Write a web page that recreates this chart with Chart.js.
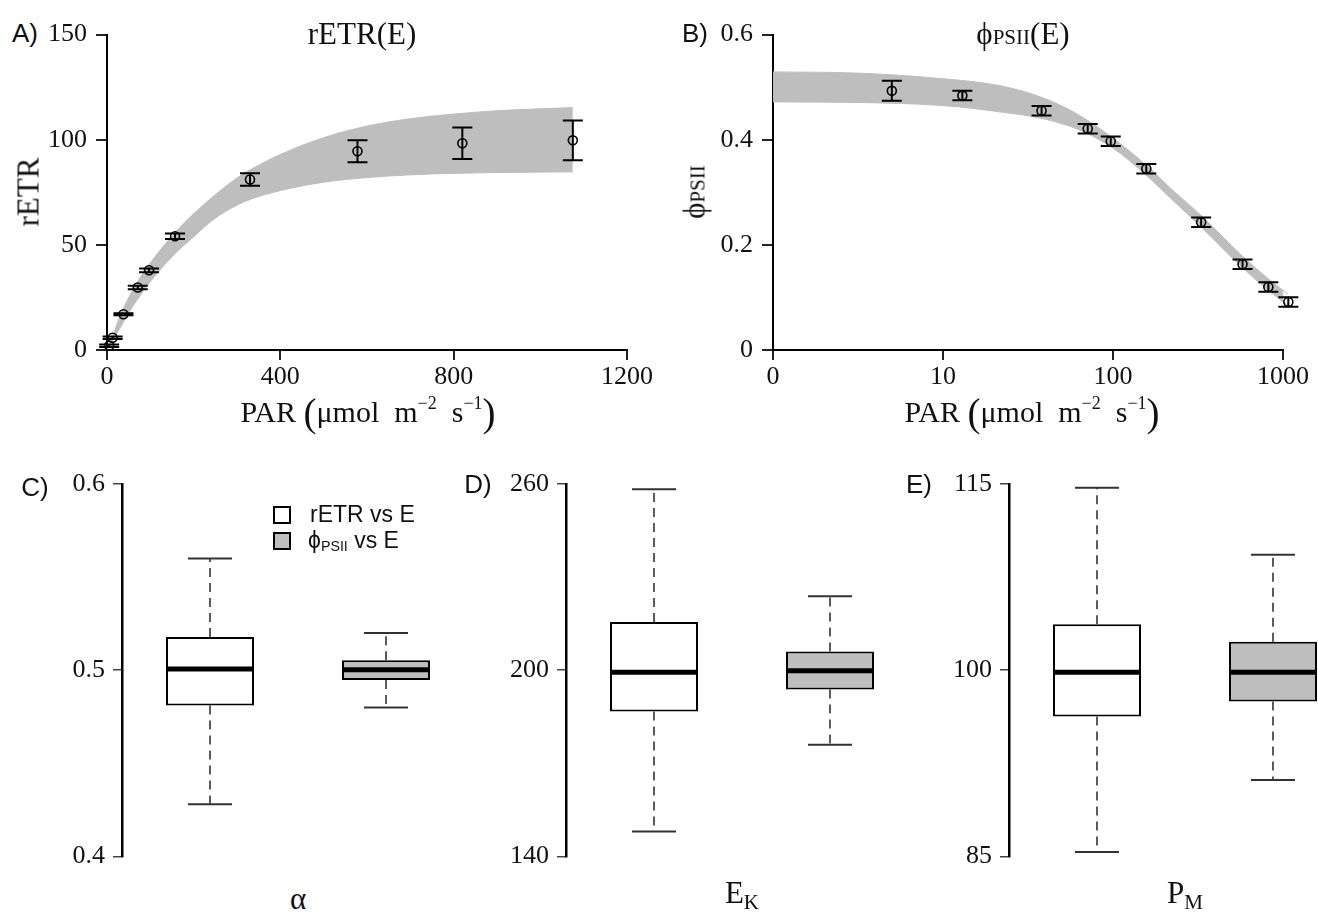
<!DOCTYPE html>
<html>
<head>
<meta charset="utf-8">
<script src="https://cdn.jsdelivr.net/npm/chart.js@4.4.1/dist/chart.umd.min.js"></script>
<style>
  html, body { margin: 0; padding: 0; background: #fff; overflow: hidden; }
  #fig { position: relative; width: 1318px; height: 912px; overflow: hidden; background: #fff; }
  .panel { position: absolute; }
  .txt { position: absolute; transform: translate(-50%, -50%); white-space: nowrap; color: #111; line-height: 1; }
  .lt { transform: translate(0, -50%); }
  .serif { font-family: "Liberation Serif", "Times New Roman", serif; }
  .sans { font-family: "Liberation Sans", Arial, sans-serif; }
  .rot { transform: translate(-50%, -50%) rotate(-90deg); }
  .sup { font-size: 60%; vertical-align: 0.75em; }
  .paren { font-size: 130%; vertical-align: -0.08em; }
  .sub { font-size: 68%; vertical-align: -0.02em; }
  .subl { font-size: 68%; vertical-align: -0.25em; }
  .key { position: absolute; width: 14px; height: 14px; border: 2px solid #000; }
</style>
</head>
<body>
<div id="fig">
  <div class="panel" style="left:40px;top:10px;width:620px;height:390px"><canvas id="cA"></canvas></div>
  <div class="panel" style="left:700px;top:10px;width:618px;height:390px"><canvas id="cB"></canvas></div>
  <div class="panel" style="left:40px;top:460px;width:440px;height:420px"><canvas id="cC"></canvas></div>
  <div class="panel" style="left:480px;top:460px;width:446px;height:420px"><canvas id="cD"></canvas></div>
  <div class="panel" style="left:920px;top:460px;width:447px;height:420px"><canvas id="cE"></canvas></div>

  <div class="txt sans" style="left:25px;top:33px;font-size:26px">A)</div>
  <div class="txt serif" style="left:362px;top:33px;font-size:31px">rETR(E)</div>
  <div class="txt serif rot" style="left:28px;top:192px;font-size:31px">rETR</div>
  <div class="txt serif" style="left:368px;top:412px;font-size:30px">PAR <span class="paren">(</span>μmol&nbsp; m<span class="sup">−2</span>&nbsp; s<span class="sup">−1</span><span class="paren">)</span></div>

  <div class="txt sans" style="left:695px;top:33px;font-size:26px">B)</div>
  <div class="txt serif" style="left:1023px;top:33px;font-size:31px">ϕ<span class="sub">PSII</span>(E)</div>
  <div class="txt serif rot" style="left:694px;top:192px;font-size:31px">ϕ<span class="sub">PSII</span></div>
  <div class="txt serif" style="left:1032px;top:412px;font-size:30px">PAR <span class="paren">(</span>μmol&nbsp; m<span class="sup">−2</span>&nbsp; s<span class="sup">−1</span><span class="paren">)</span></div>

  <div class="txt sans" style="left:35px;top:487px;font-size:26px">C)</div>
  <div class="txt sans" style="left:478px;top:484px;font-size:26px">D)</div>
  <div class="txt sans" style="left:919px;top:484px;font-size:26px">E)</div>

  <div class="txt serif" style="left:298px;top:898px;font-size:31px">α</div>
  <div class="txt serif" style="left:742px;top:895px;font-size:31px">E<span class="subl">K</span></div>
  <div class="txt serif" style="left:1185px;top:895px;font-size:31px">P<span class="subl">M</span></div>

  <div class="key" style="left:273px;top:506px;background:#fff"></div>
  <div class="txt sans lt" style="left:310px;top:514px;font-size:23px" id="leg0"></div>
  <div class="key" style="left:273px;top:532px;background:#bebebe"></div>
  <div class="txt sans lt" style="left:308px;top:541px;font-size:23px">ϕ<span class="subl" style="font-size:62%">PSII</span> vs E</div>
</div>

<script>
// light levels (PAR, umol m-2 s-1) of the measured points
const parLevels = [5, 13, 38, 71, 97, 157, 330, 578, 820, 1075];
const rETRMean = [2.0, 5.8, 17.0, 29.7, 37.9, 54.1, 81.1, 94.5, 98.3, 99.7];
const rETRErr = [0.6, 0.6, 0.5, 0.8, 0.9, 1.3, 3.0, 5.2, 7.5, 9.5];
const phiMean = [0.493, 0.484, 0.455, 0.421, 0.397, 0.345, 0.243, 0.163, 0.120, 0.0915];
const phiErr = [0.019, 0.009, 0.009, 0.009, 0.009, 0.009, 0.009, 0.009, 0.009, 0.009];

// model envelope
const bandParA = [0, 15, 30, 62, 102, 158, 201, 245, 301, 333, 400, 500, 600, 700, 800, 900, 1000, 1075];
const rETRBandHi = [0, 7.8, 16.1, 29.5, 42, 56, 65, 73, 82, 86, 93, 101, 106.5, 110, 112.2, 113.8, 114.7, 115.3];
const rETRBandLo = [0, 5.0, 10.5, 21.5, 33, 46, 54, 62, 69, 71.8, 75.8, 79.8, 82, 83.3, 84, 84.4, 84.6, 84.7];
const bandParB = [1, 3, 10, 21.5, 40, 63, 100, 155, 226, 330, 580, 830, 1075];
const phiBandHi = [0.529, 0.527, 0.516, 0.503, 0.478, 0.447, 0.403, 0.353, 0.303, 0.256, 0.178, 0.134, 0.106];
const phiBandLo = [0.472, 0.471, 0.465, 0.453, 0.439, 0.419, 0.384, 0.334, 0.284, 0.234, 0.156, 0.112, 0.084];

// tick values and labels
const rETRTicksX = [0, 400, 800, 1200];
const rETRTicksY = [0, 50, 100, 150];
const phiTicksX = [1, 10, 100, 1000];
const phiTickLabelsX = ['0', '10', '100', '1000'];
const phiTicksY = [0, 0.2, 0.4, 0.6];
const phiTickLabelsY = ['0', '0.2', '0.4', '0.6'];
const alphaTicks = [0.4, 0.5, 0.6];
const alphaTickLabels = ['0.4', '0.5', '0.6'];
const ekTicks = [140, 200, 260];
const pmTicks = [85, 100, 115];

// box plots: [lower whisker, q1, median, q3, upper whisker]
const boxGroups = ['rETR vs E', 'ϕPSII vs E'];
const alphaRETR = [0.428, 0.481, 0.5007, 0.5178, 0.560];
const alphaPhi = [0.480, 0.4947, 0.5002, 0.5053, 0.520];
const ekRETR = [148.0, 186.7, 199.3, 215.5, 258.3];
const ekPhi = [176.0, 193.8, 199.8, 206.0, 223.8];
const pmRETR = [85.35, 96.27, 99.84, 103.7, 114.7];
const pmPhi = [91.15, 97.47, 99.84, 102.3, 109.3];

document.getElementById('leg0').textContent = boxGroups[0];

const serif = { family: '"Liberation Serif", "Times New Roman", serif', size: 26 };
const bandGrey = '#bebebe';
const boxFills = ['#ffffff', bandGrey];

function baseOptions(pad) {
  return {
    responsive: true,
    maintainAspectRatio: false,
    animation: false,
    events: [],
    layout: { padding: pad },
    plugins: { legend: { display: false }, tooltip: { enabled: false } }
  };
}

function axis(o) {
  return {
    type: o.type || 'linear',
    position: o.position,
    min: o.min,
    max: o.max,
    offset: false,
    afterBuildTicks: s => { s.ticks = o.ticks.map(v => ({ value: v })); },
    afterFit: s => {
      if (o.position === 'left') s.width = o.size; else s.height = o.size;
    },
    ticks: {
      font: serif, color: '#111', padding: o.pad, maxRotation: 0, autoSkip: false,
      callback: (v, i) => o.labels[i]
    },
    grid: { drawOnChartArea: false, drawTicks: true, tickLength: o.tick, color: '#222', lineWidth: 2 },
    border: { display: true, color: '#000', width: 2 }
  };
}

const errorBars = {
  id: 'errorBars',
  afterDatasetsDraw(chart) {
    const ctx = chart.ctx;
    const ys = chart.scales.y;
    chart.data.datasets.forEach((ds, i) => {
      if (!ds.errors) return;
      const meta = chart.getDatasetMeta(i);
      ctx.save();
      ctx.strokeStyle = '#000';
      ctx.lineWidth = 2;
      meta.data.forEach((pt, j) => {
        const v = ds.data[j].y, e = ds.errors[j];
        const top = ys.getPixelForValue(v + e);
        const bot = ys.getPixelForValue(v - e);
        ctx.beginPath();
        ctx.moveTo(pt.x, top); ctx.lineTo(pt.x, bot);
        ctx.moveTo(pt.x - 10, top); ctx.lineTo(pt.x + 10, top);
        ctx.moveTo(pt.x - 10, bot); ctx.lineTo(pt.x + 10, bot);
        ctx.stroke();
      });
      ctx.restore();
    });
  }
};

function bandSets(xs, hi, lo) {
  const common = {
    type: 'line', borderColor: bandGrey, backgroundColor: bandGrey, borderWidth: 1,
    pointRadius: 0, cubicInterpolationMode: 'monotone', clip: false, order: 5
  };
  return [
    Object.assign({}, common, { data: xs.map((x, i) => ({ x, y: hi[i] })), fill: '+1' }),
    Object.assign({}, common, { data: xs.map((x, i) => ({ x, y: lo[i] })), fill: false })
  ];
}

function pointSet(xs, ys, errs) {
  return {
    type: 'scatter',
    data: xs.map((x, i) => ({ x, y: ys[i] })),
    errors: errs,
    pointRadius: 4.5,
    pointBorderWidth: 1.6,
    borderColor: '#000',
    pointBorderColor: '#000',
    backgroundColor: 'rgba(0,0,0,0)',
    pointBackgroundColor: 'rgba(0,0,0,0)',
    clip: false,
    order: 1
  };
}

// A) rETR vs PAR
new Chart(document.getElementById('cA'), {
  type: 'scatter',
  data: {
    datasets: [
      ...bandSets(bandParA, rETRBandHi, rETRBandLo),
      pointSet(parLevels, rETRMean, rETRErr)
    ]
  },
  options: Object.assign(baseOptions({ top: 23, right: 33, left: 0, bottom: 0 }), {
    scales: {
      x: axis({ position: 'bottom', min: 0, max: 1200, ticks: rETRTicksX, labels: rETRTicksX.map(String), size: 50, tick: 10, pad: 2 }),
      y: axis({ position: 'left', min: 0, max: 150, ticks: rETRTicksY, labels: rETRTicksY.map(String), size: 67, tick: 11, pad: 9 })
    }
  }),
  plugins: [errorBars]
});

// B) phiPSII vs PAR (log axis)
new Chart(document.getElementById('cB'), {
  type: 'scatter',
  data: {
    datasets: [
      ...bandSets(bandParB, phiBandHi, phiBandLo),
      pointSet(parLevels, phiMean, phiErr)
    ]
  },
  options: Object.assign(baseOptions({ top: 23, right: 35, left: 0, bottom: 0 }), {
    scales: {
      x: axis({ type: 'logarithmic', position: 'bottom', min: 1, max: 1000, ticks: phiTicksX, labels: phiTickLabelsX, size: 50, tick: 10, pad: 2 }),
      y: axis({ position: 'left', min: 0, max: 0.6, ticks: phiTicksY, labels: phiTickLabelsY, size: 73, tick: 11, pad: 9 })
    }
  }),
  plugins: [errorBars]
});

function seg(pts, style) {
  return Object.assign({
    type: 'line', data: pts.map(p => ({ x: p[0], y: p[1] })),
    pointRadius: 0, fill: false, clip: false, order: 1
  }, style);
}

function boxChart(id, groups, ticks, labels, axisW, padRight) {
  const whisker = { borderColor: '#333', borderWidth: 1.6, borderDash: [9, 6] };
  const cap = { borderColor: '#333', borderWidth: 2 };
  const median = { borderColor: '#000', borderWidth: 5 };
  const datasets = [{
    type: 'bar',
    data: groups.map((g, i) => ({ x: i + 1, y: [g[1], g[3]] })),
    backgroundColor: boxFills,
    borderColor: '#000',
    borderWidth: 2,
    borderSkipped: false,
    barPercentage: 0.5,
    categoryPercentage: 1,
    order: 3
  }];
  groups.forEach((g, i) => {
    const x = i + 1;
    datasets.push(seg([[x, g[3]], [x, g[4]]], whisker));
    datasets.push(seg([[x, g[1]], [x, g[0]]], whisker));
    datasets.push(seg([[x - 0.125, g[4]], [x + 0.125, g[4]]], cap));
    datasets.push(seg([[x - 0.125, g[0]], [x + 0.125, g[0]]], cap));
    datasets.push(seg([[x - 0.25, g[2]], [x + 0.25, g[2]]], median));
  });
  new Chart(document.getElementById(id), {
    type: 'bar',
    data: { datasets },
    options: Object.assign(baseOptions({ top: 24, right: padRight, left: 0, bottom: 21 }), {
      scales: {
        x: {
          type: 'linear', min: 0.5, max: 2.5, offset: false, display: false,
          afterBuildTicks: s => { s.ticks = [{ value: 1 }, { value: 2 }]; }
        },
        y: Object.assign(axis({ position: 'left', min: ticks[0], max: ticks[ticks.length - 1], ticks, labels, size: axisW, tick: 9, pad: 8 }), {
          grid: { drawOnChartArea: false, drawTicks: true, tickLength: 9, color: '#444', lineWidth: 1.5 },
          border: { display: true, color: '#000', width: 2.5 }
        })
      }
    })
  });
}

boxChart('cC', [alphaRETR, alphaPhi], alphaTicks, alphaTickLabels, 82, 6);
boxChart('cD', [ekRETR, ekPhi], ekTicks, ekTicks.map(String), 86, 8);
boxChart('cE', [pmRETR, pmPhi], pmTicks, pmTicks.map(String), 89, 6);
</script>
</body>
</html>
